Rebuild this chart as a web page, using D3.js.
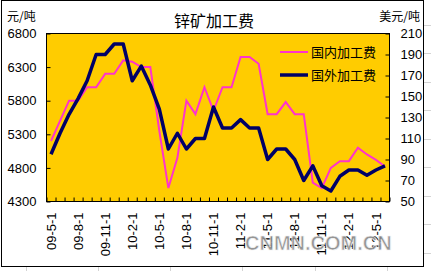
<!DOCTYPE html>
<html>
<head>
<meta charset="utf-8">
<script src="https://cdn.jsdelivr.net/npm/d3@7"></script>
<style>
  body { margin: 0; background: #fff; }
  svg text { font-family: "Liberation Sans", Arial, sans-serif; }
  .cjk { font-family: "Noto Sans CJK SC", sans-serif; }
</style>
</head>
<body>
<svg id="viz" width="431" height="271"></svg>
<script>
// months on the x axis (one point per month)
var months = ["09-5-1","09-6-1","09-7-1","09-8-1","09-9-1","09-10-1","09-11-1","09-12-1",
  "10-1-1","10-2-1","10-3-1","10-4-1","10-5-1","10-6-1","10-7-1","10-8-1","10-9-1","10-10-1","10-11-1","10-12-1",
  "11-1-1","11-2-1","11-3-1","11-4-1","11-5-1","11-6-1","11-7-1","11-8-1","11-9-1","11-10-1","11-11-1","11-12-1",
  "12-1-1","12-2-1","12-3-1","12-4-1","12-5-1","12-6-1"];
// labels actually printed under the axis
var shownMonths = ["09-5-1","09-8-1","09-11-1","10-2-1","10-5-1","10-8-1","10-11-1",
  "11-2-1","11-5-1","11-8-1","11-11-1","12-2-1","12-5-1"];
// 国内加工费 (元/吨, left axis)
var domestic = [5200,5500,5800,5800,6000,6000,6200,6200,6400,6380,6300,6300,5350,4500,4950,5800,
  5600,6000,5650,6000,6000,6450,6450,6350,5600,5600,5780,5600,5600,4580,4500,4800,4900,4900,5100,5000,4920,4820];
// 国外加工费 (美元/吨, right axis)
var foreign = [95,115,133,148,165,190,190,200,200,165,179,161,138,100,115,100,110,110,140,120,
  120,128,120,120,90,100,100,90,70,84,65,60,74,80,80,75,80,84];
var leftTicks = [4300,4800,5300,5800,6300,6800];
var rightTicks = [50,70,90,110,130,150,170,190,210];

var plot = {left: 46.5, right: 389.5, top: 33.5, bottom: 201.5};

var svg = d3.select("#viz");

// spreadsheet cell lines peeking out around the chart
var cellX = [26, 98, 170, 242, 315, 387];
cellX.forEach(function(x){
  svg.append("line").attr("x1", x + 0.5).attr("x2", x + 0.5).attr("y1", 267).attr("y2", 271)
    .attr("stroke", "#d4d4d4");
});
var cellY = [25, 53, 82, 110, 139, 167, 196, 224, 253];
cellY.forEach(function(y){
  svg.append("line").attr("x1", 424).attr("x2", 431).attr("y1", y + 0.5).attr("y2", y + 0.5)
    .attr("stroke", "#d4d4d4");
});

// chart border
svg.append("rect").attr("x", 1.5).attr("y", 0.5).attr("width", 422).attr("height", 266)
  .attr("fill", "#fff").attr("stroke", "#000");

var x = d3.scaleBand().domain(months).range([plot.left, plot.right]);
var xIdx = d3.scaleLinear().domain([0, months.length]).range([plot.left, plot.right]);
var yL = d3.scaleLinear().domain([4300, 6800]).range([plot.bottom, plot.top]);
var yR = d3.scaleLinear().domain([50, 210]).range([plot.bottom, plot.top]);

svg.append("rect")
  .attr("x", plot.left).attr("y", plot.top)
  .attr("width", plot.right - plot.left).attr("height", plot.bottom - plot.top)
  .attr("fill", "#ffcc00").attr("stroke", "#000");

// left axis
var gl = svg.append("g").attr("transform", "translate(" + plot.left + ",0)")
  .call(d3.axisLeft(yL).tickValues(leftTicks).tickFormat(d3.format("d"))
    .tickSizeInner(-4).tickSizeOuter(0).tickPadding(10));
// right axis
var gr = svg.append("g").attr("transform", "translate(" + plot.right + ",0)")
  .call(d3.axisRight(yR).tickValues(rightTicks).tickFormat(d3.format("d"))
    .tickSizeInner(-4).tickSizeOuter(0).tickPadding(11));
// bottom tick marks at month boundaries
var gb = svg.append("g").attr("transform", "translate(0," + plot.bottom + ")")
  .call(d3.axisBottom(xIdx).tickValues(d3.range(months.length + 1)).tickSizeInner(-4)
    .tickSizeOuter(0).tickFormat(""));
// bottom labels
var gx = svg.append("g").attr("transform", "translate(0," + plot.bottom + ")")
  .call(d3.axisBottom(x).tickValues(shownMonths).tickSize(0));
gx.selectAll("text")
  .attr("y", 0).attr("x", -11).attr("dy", "0.35em")
  .attr("transform", "rotate(-90)")
  .style("text-anchor", "end");

[gl, gr, gb, gx].forEach(function(g){
  g.select(".domain").remove();
  g.selectAll("line").attr("stroke", "#000");
  g.selectAll("text").attr("fill", "#000").style("font-size", "13px")
    .style("font-family", "'Liberation Sans', Arial, sans-serif");
});

var lineL = d3.line()
  .x(function(d, i){ return x(months[i]) + x.bandwidth() / 2; })
  .y(function(d){ return yL(d); });
var lineR = d3.line()
  .x(function(d, i){ return x(months[i]) + x.bandwidth() / 2; })
  .y(function(d){ return yR(d); });

svg.append("path").datum(domestic).attr("d", lineL)
  .attr("fill", "none").attr("stroke", "#ff33cc").attr("stroke-width", 2);
svg.append("path").datum(foreign).attr("d", lineR)
  .attr("fill", "none").attr("stroke", "#000066").attr("stroke-width", 3.5)
  .attr("stroke-linejoin", "round");

// title and units
svg.append("text").attr("class", "cjk").attr("x", 214).attr("y", 27)
  .attr("text-anchor", "middle").style("font-size", "16px").text("锌矿加工费");
svg.append("text").attr("class", "cjk").attr("x", 7).attr("y", 21)
  .style("font-size", "12px").text("元/吨");
svg.append("text").attr("class", "cjk").attr("x", 420).attr("y", 21)
  .attr("text-anchor", "end").style("font-size", "12px").text("美元/吨");

// legend
var legend = [
  {name: "国内加工费", color: "#ff33cc", w: 2, y: 52},
  {name: "国外加工费", color: "#000066", w: 3.5, y: 75}
];
legend.forEach(function(l){
  svg.append("line").attr("x1", 280).attr("x2", 308).attr("y1", l.y).attr("y2", l.y)
    .attr("stroke", l.color).attr("stroke-width", l.w);
  svg.append("text").attr("class", "cjk").attr("x", 311).attr("y", l.y + 4.5)
    .style("font-size", "13px").attr("fill", "#000").text(l.name);
});

// watermark
svg.append("text").attr("x", 245).attr("y", 250)
  .style("font-size", "20px").style("font-weight", "bold")
  .attr("fill", "#8a8a8a").attr("stroke", "#f2f2f2").attr("stroke-width", 0.7)
  .attr("opacity", 0.9).text("CNMN.COM.CN");
</script>
</body>
</html>
